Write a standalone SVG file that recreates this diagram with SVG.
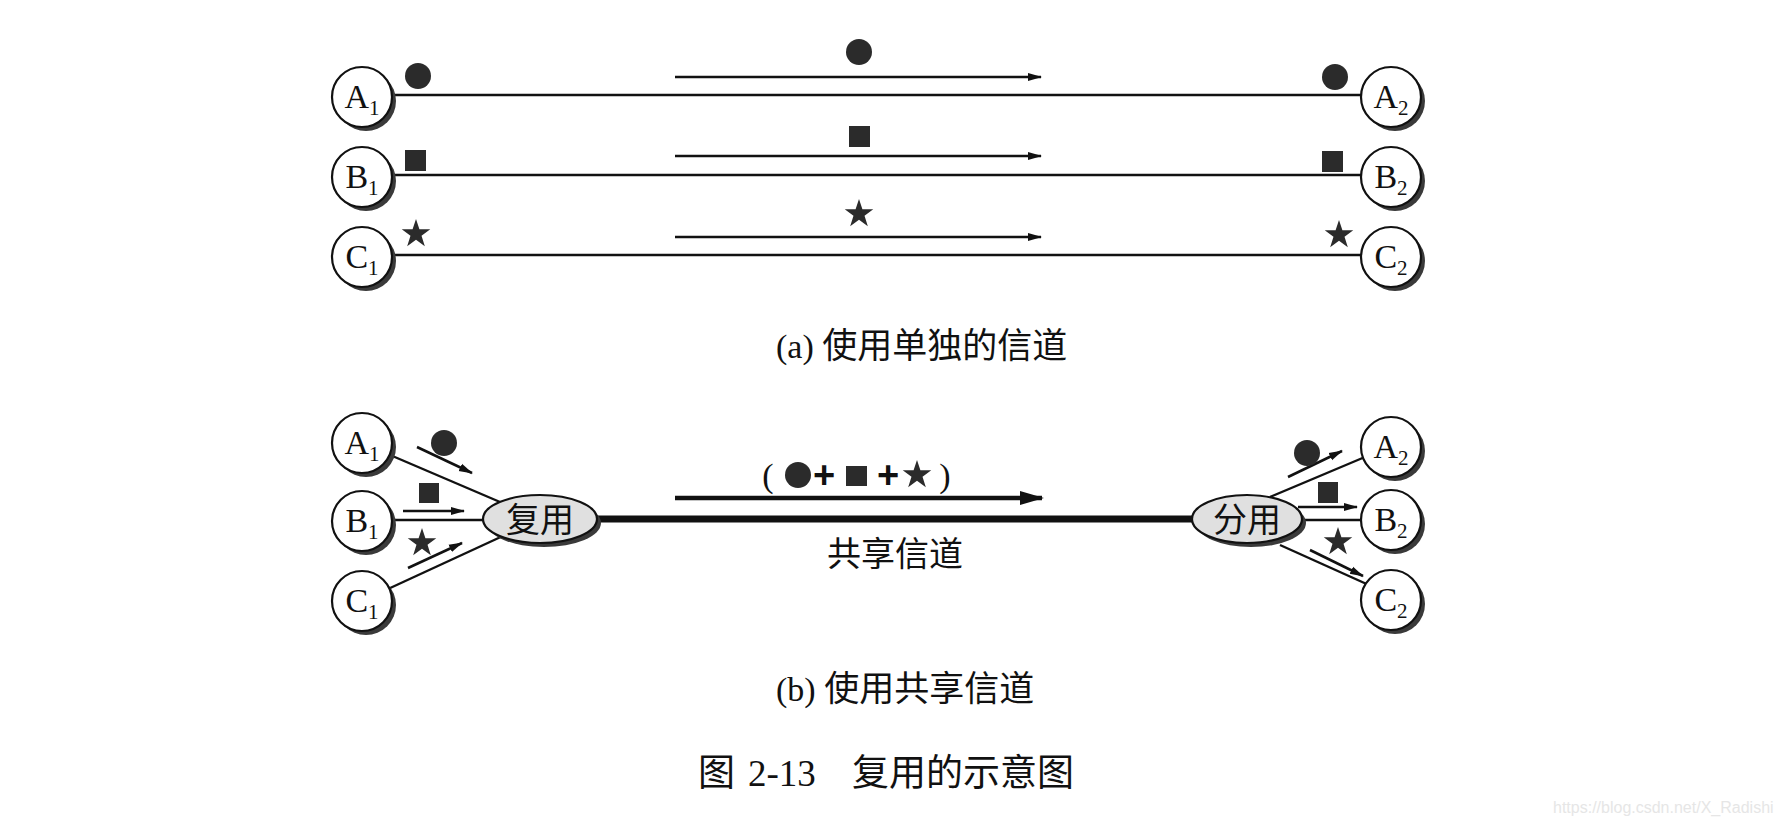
<svg xmlns="http://www.w3.org/2000/svg" xmlns:xlink="http://www.w3.org/1999/xlink" width="1781" height="826" viewBox="0 0 1781 826">
<style>
.ln{stroke:#111;stroke-width:2.4;fill:none}
.thin{stroke:#111;stroke-width:2.6;fill:none;marker-end:url(#ah)}
.bus{stroke:#111;stroke-width:7;fill:none}
.bigarr{stroke:#111;stroke-width:4.5;fill:none;marker-end:url(#ahb)}
.sh{fill:#3a3a3a}
.nd{fill:#fff;stroke:#111;stroke-width:2.2}
.el{fill:#e0e0e0;stroke:#111;stroke-width:2.2}
.sym{fill:#2b2b2b}
.lab{font-family:"Liberation Serif","Times New Roman",serif;font-size:34px;fill:#111}
.sub{font-size:21px}
.cjk{font-family:"Noto Sans CJK SC","Noto Sans",sans-serif;fill:#111}
.ser{font-family:"Liberation Serif","Noto Sans CJK SC",serif;fill:#111}
.plus{font-family:"Liberation Sans",Arial,sans-serif;font-weight:bold;font-size:38px;fill:#111}
</style>
<defs>
<marker id="ah" markerUnits="userSpaceOnUse" markerWidth="16" markerHeight="12" refX="13" refY="5" orient="auto"><path d="M0,1 L14,5 L0,9 Z" fill="#111"/></marker>
<marker id="ahb" markerUnits="userSpaceOnUse" markerWidth="28" markerHeight="18" refX="22" refY="8" orient="auto"><path d="M0,1 L24,8 L0,15 Z" fill="#111"/></marker>
<path id="star" d="M0,-15 L3.41,-4.69 L14.27,-4.64 L5.52,1.79 L8.82,12.14 L0,5.8 L-8.82,12.14 L-5.52,1.79 L-14.27,-4.64 L-3.41,-4.69 Z"/>
</defs>
<rect width="1781" height="826" fill="#fff"/>

<g id="connectors">
  <!-- (a) separate channels -->
  <line class="ln" x1="390" y1="95" x2="1362" y2="95"/>
  <line class="ln" x1="390" y1="175" x2="1362" y2="175"/>
  <line class="ln" x1="390" y1="255" x2="1362" y2="255"/>
  <line class="thin" x1="675" y1="77" x2="1041" y2="77"/>
  <line class="thin" x1="675" y1="156" x2="1041" y2="156"/>
  <line class="thin" x1="675" y1="237" x2="1041" y2="237"/>
  <!-- (b) shared channel -->
  <line class="ln" x1="362" y1="443" x2="500" y2="502"/>
  <line class="ln" x1="362" y1="520" x2="490" y2="520"/>
  <line class="ln" x1="362" y1="601" x2="505" y2="535"/>
  <line class="ln" x1="1270" y1="497" x2="1391" y2="446"/>
  <line class="ln" x1="1290" y1="520" x2="1391" y2="520"/>
  <line class="ln" x1="1280" y1="545" x2="1391" y2="595"/>
  <line class="bus" x1="590" y1="519" x2="1200" y2="519"/>
  <line class="bigarr" x1="675" y1="498" x2="1042" y2="498"/>
  <line class="thin" x1="417" y1="447" x2="472" y2="473"/>
  <line class="thin" x1="403" y1="511" x2="464" y2="511"/>
  <line class="thin" x1="408" y1="568" x2="462" y2="543"/>
  <line class="thin" x1="1288" y1="477" x2="1342" y2="451"/>
  <line class="thin" x1="1298" y1="507" x2="1357" y2="507"/>
  <line class="thin" x1="1310" y1="550" x2="1363" y2="576"/>
</g>

<g id="symbols">
  <circle class="sym" cx="418" cy="76" r="13"/>
  <rect class="sym" x="405" y="150" width="21" height="21"/>
  <use xlink:href="#star" class="sym" transform="translate(416,234)"/>
  <circle class="sym" cx="859" cy="52" r="13"/>
  <rect class="sym" x="849" y="126" width="21" height="21"/>
  <use xlink:href="#star" class="sym" transform="translate(859,214)"/>
  <circle class="sym" cx="1335" cy="77" r="13"/>
  <rect class="sym" x="1322" y="151" width="21" height="21"/>
  <use xlink:href="#star" class="sym" transform="translate(1339,235)"/>

  <circle class="sym" cx="444" cy="443" r="13"/>
  <rect class="sym" x="419" y="483" width="20" height="20"/>
  <use xlink:href="#star" class="sym" transform="translate(422,543)"/>
  <circle class="sym" cx="1307" cy="453" r="13"/>
  <rect class="sym" x="1318" y="482" width="20" height="21"/>
  <use xlink:href="#star" class="sym" transform="translate(1338,542)"/>
</g>

<g id="shared-label">
  <text class="ser" x="768" y="487" font-size="34" text-anchor="middle">(</text>
  <circle class="sym" cx="798" cy="475" r="13"/>
  <text class="plus" x="824" y="488" text-anchor="middle">+</text>
  <rect class="sym" x="846" y="466" width="21" height="20"/>
  <text class="plus" x="888" y="488" text-anchor="middle">+</text>
  <use xlink:href="#star" class="sym" transform="translate(917,475)"/>
  <text class="ser" x="945" y="487" font-size="34" text-anchor="middle">)</text>
  <text class="cjk" x="895" y="566" font-size="34" text-anchor="middle">共享信道</text>
</g>

<!-- (a) nodes -->
<g id="a-A1"><circle class="sh" cx="366" cy="101" r="30"/><circle class="nd" cx="362" cy="97" r="30"/><text class="lab" x="362" y="108" text-anchor="middle">A<tspan class="sub" dy="7">1</tspan></text></g>
<g id="a-B1"><circle class="sh" cx="366" cy="181" r="30"/><circle class="nd" cx="362" cy="177" r="30"/><text class="lab" x="362" y="188" text-anchor="middle">B<tspan class="sub" dy="7">1</tspan></text></g>
<g id="a-C1"><circle class="sh" cx="366" cy="261" r="30"/><circle class="nd" cx="362" cy="257" r="30"/><text class="lab" x="362" y="268" text-anchor="middle">C<tspan class="sub" dy="7">1</tspan></text></g>
<g id="a-A2"><circle class="sh" cx="1395" cy="101" r="30"/><circle class="nd" cx="1391" cy="97" r="30"/><text class="lab" x="1391" y="108" text-anchor="middle">A<tspan class="sub" dy="7">2</tspan></text></g>
<g id="a-B2"><circle class="sh" cx="1395" cy="181" r="30"/><circle class="nd" cx="1391" cy="177" r="30"/><text class="lab" x="1391" y="188" text-anchor="middle">B<tspan class="sub" dy="7">2</tspan></text></g>
<g id="a-C2"><circle class="sh" cx="1395" cy="261" r="30"/><circle class="nd" cx="1391" cy="257" r="30"/><text class="lab" x="1391" y="268" text-anchor="middle">C<tspan class="sub" dy="7">2</tspan></text></g>

<!-- (b) nodes -->
<g id="b-A1"><circle class="sh" cx="366" cy="447" r="30"/><circle class="nd" cx="362" cy="443" r="30"/><text class="lab" x="362" y="454" text-anchor="middle">A<tspan class="sub" dy="7">1</tspan></text></g>
<g id="b-B1"><circle class="sh" cx="366" cy="525" r="30"/><circle class="nd" cx="362" cy="521" r="30"/><text class="lab" x="362" y="532" text-anchor="middle">B<tspan class="sub" dy="7">1</tspan></text></g>
<g id="b-C1"><circle class="sh" cx="366" cy="605" r="30"/><circle class="nd" cx="362" cy="601" r="30"/><text class="lab" x="362" y="612" text-anchor="middle">C<tspan class="sub" dy="7">1</tspan></text></g>
<g id="b-A2"><circle class="sh" cx="1395" cy="451" r="30"/><circle class="nd" cx="1391" cy="447" r="30"/><text class="lab" x="1391" y="458" text-anchor="middle">A<tspan class="sub" dy="7">2</tspan></text></g>
<g id="b-B2"><circle class="sh" cx="1395" cy="524" r="30"/><circle class="nd" cx="1391" cy="520" r="30"/><text class="lab" x="1391" y="531" text-anchor="middle">B<tspan class="sub" dy="7">2</tspan></text></g>
<g id="b-C2"><circle class="sh" cx="1395" cy="604" r="30"/><circle class="nd" cx="1391" cy="600" r="30"/><text class="lab" x="1391" y="611" text-anchor="middle">C<tspan class="sub" dy="7">2</tspan></text></g>

<g id="mux"><ellipse class="sh" cx="544" cy="523" rx="57" ry="24"/><ellipse class="el" cx="540" cy="519" rx="57" ry="24"/><text class="cjk" x="540" y="532" font-size="34" text-anchor="middle">复用</text></g>
<g id="demux"><ellipse class="sh" cx="1251" cy="523" rx="55" ry="24"/><ellipse class="el" cx="1247" cy="519" rx="55" ry="24"/><text class="cjk" x="1247" y="532" font-size="34" text-anchor="middle">分用</text></g>

<g id="captions">
  <text x="776" y="358" class="ser" font-size="34">(a) <tspan class="cjk" font-size="35">使用单独的信道</tspan></text>
  <text x="776" y="701" class="ser" font-size="34">(b) <tspan class="cjk" font-size="35">使用共享信道</tspan></text>
  <text x="698" y="786" class="cjk" font-size="37">图</text>
  <text x="748" y="786" class="ser" font-size="37">2-13</text>
  <text x="852" y="786" class="cjk" font-size="37">复用的示意图</text>
  <text x="1553" y="813" font-family="Liberation Sans,Arial,sans-serif" font-size="16" fill="#e6e6e6">https://blog.csdn.net/X_Radishi</text>
</g>
</svg>
